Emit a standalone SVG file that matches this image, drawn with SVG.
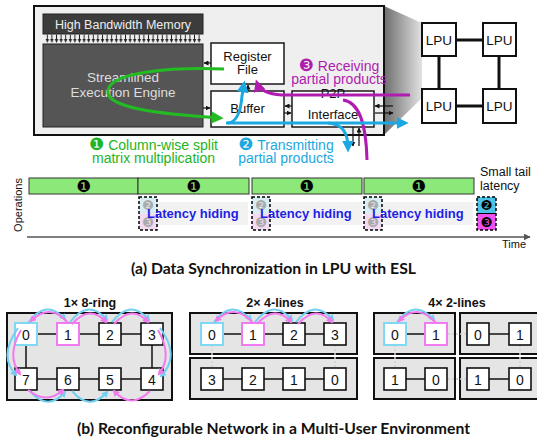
<svg xmlns="http://www.w3.org/2000/svg" width="537" height="443" viewBox="0 0 537 443">
<defs>
<style>
text{font-family:"Liberation Sans","DejaVu Sans",Arial,sans-serif}
.cap{font-family:Lato,"Open Sans","Liberation Sans",sans-serif;font-weight:bold;font-size:15px;fill:#111;text-anchor:middle}
.box{fill:#fff;stroke:#1a1a1a;stroke-width:1.5}
.lbl{font-size:13px;fill:#111;text-anchor:middle}
.lpu{fill:#fff;stroke:#111;stroke-width:2}
.lput{font-size:13.5px;fill:#111;text-anchor:middle}
.lpl{stroke:#111;stroke-width:3}
.sm{stroke:#111;stroke-width:1.2;marker-end:url(#mk)}
.bar{fill:#8de87a;stroke:#333;stroke-width:1}
.n1{font-size:16.5px;text-anchor:middle;fill:#000;font-family:"DejaVu Sans",sans-serif}
.n2{font-size:13.5px;text-anchor:middle;fill:#000;font-family:"DejaVu Sans",sans-serif}
.hid{fill:#f2f2f2}
.lh{font-size:13px;font-weight:bold;fill:#1f1fe6}
.dash{fill:none;stroke:#000;stroke-width:1.5;stroke-dasharray:3 2}
.fn{font-size:13.5px;text-anchor:middle;fill:#aaa;font-family:"DejaVu Sans",sans-serif}
.big{font-size:17px;font-family:"DejaVu Sans",sans-serif}
.net{fill:#e5e5e5;stroke:#111;stroke-width:2}
.nd{fill:#fff;stroke:#111;stroke-width:1.6}
.ndc{fill:#fff;stroke:#80d8f5;stroke-width:2}
.ndp{fill:#fff;stroke:#f07af0;stroke-width:2}
.nt{font-size:14px;text-anchor:middle;fill:#111}
.ln{stroke:#111;stroke-width:1.5}
.dot{stroke:#cfcfcf;stroke-width:1.5;stroke-dasharray:2 2}
.cy{fill:none;stroke:#72cff0;stroke-width:2;marker-end:url(#mc)}
.pk{fill:none;stroke:#f27aee;stroke-width:2;marker-end:url(#mp)}
.ttl{font-size:12.5px;font-weight:bold;text-anchor:middle;fill:#111}
.g3{fill:none;stroke:#22bb22;stroke-width:3}
.c3{fill:none;stroke:#1ca8e0;stroke-width:3}
.m3{fill:none;stroke:#b01cb0;stroke-width:3}
</style>
<linearGradient id="shade" gradientUnits="userSpaceOnUse" x1="384" y1="0" x2="424" y2="0">
<stop offset="0" stop-color="#6e6e6e"/>
<stop offset="1" stop-color="#e8e8e8"/>
</linearGradient>
<pattern id="hbmArr" patternUnits="userSpaceOnUse" x="45" y="34" width="4.6" height="10">
<line x1="2.3" y1="0.5" x2="2.3" y2="6" stroke="#222" stroke-width="1"/>
<polygon points="0.6,5 4,5 2.3,9" fill="#222"/>
</pattern>
<marker id="mk" viewBox="0 0 10 10" refX="9" refY="5" markerWidth="5" markerHeight="5" markerUnits="userSpaceOnUse" orient="auto"><path d="M0,0 L10,5 L0,10 z" fill="#111"/></marker>
<marker id="ma" viewBox="0 0 10 10" refX="9" refY="5" markerWidth="7" markerHeight="7" markerUnits="userSpaceOnUse" orient="auto"><path d="M0,0 L10,5 L0,10 z" fill="#555"/></marker>
<marker id="mg" viewBox="0 0 10 10" refX="7" refY="5" markerWidth="4" markerHeight="4" orient="auto"><path d="M0,0 L10,5 L0,10 z" fill="#22bb22"/></marker>
<marker id="mcy" viewBox="0 0 10 10" refX="7" refY="5" markerWidth="4" markerHeight="4" orient="auto"><path d="M0,0 L10,5 L0,10 z" fill="#1ca8e0"/></marker>
<marker id="mm" viewBox="0 0 10 10" refX="7" refY="5" markerWidth="4" markerHeight="4" orient="auto"><path d="M0,0 L10,5 L0,10 z" fill="#b01cb0"/></marker>
<marker id="mc" viewBox="0 0 10 10" refX="7" refY="5" markerWidth="7" markerHeight="7" markerUnits="userSpaceOnUse" orient="auto"><path d="M0,0 L10,5 L0,10 z" fill="#72cff0"/></marker>
<marker id="mp" viewBox="0 0 10 10" refX="7" refY="5" markerWidth="7" markerHeight="7" markerUnits="userSpaceOnUse" orient="auto"><path d="M0,0 L10,5 L0,10 z" fill="#f27aee"/></marker>
</defs>

<rect width="537" height="443" fill="#fff"/>

<!-- (a) chip -->
<g id="chip">
<polygon points="384,6 422,23 422,98 384,135" fill="url(#shade)"/>
<rect x="34" y="6" width="350" height="129" fill="#efefef" stroke="#111" stroke-width="2"/>
</g>
<g id="hbm">
<rect x="43" y="14" width="160" height="20" fill="#3c3c3c" stroke="#222"/>
<text x="123" y="29" font-size="12.5" fill="#eee" text-anchor="middle">High Bandwidth Memory</text>
<rect x="45" y="34" width="156" height="10" fill="url(#hbmArr)"/>
</g>
<g id="see">
<rect x="43" y="44" width="160" height="83" fill="#555" stroke="#222"/>
<text x="123" y="82" font-size="13.5" fill="#ddd" text-anchor="middle">Streamlined</text>
<text x="123" y="97" font-size="13.5" fill="#ddd" text-anchor="middle">Execution Engine</text>
</g>
<g id="regfile">
<rect class="box" x="211" y="43" width="73" height="41"/>
<text class="lbl" x="247.5" y="61">Register</text>
<text class="lbl" x="247.5" y="74">File</text>
</g>
<g id="buffer">
<rect class="box" x="211" y="91" width="73" height="36"/>
<text class="lbl" x="247.5" y="113">Buffer</text>
</g>
<g id="p2p">
<rect class="box" x="292" y="91" width="82" height="36"/>
<text class="lbl" x="333" y="98">P2P</text>
<text class="lbl" x="333" y="119">Interface</text>
</g>

<!-- LPU grid -->
<g id="lpu-links">
<line class="lpl" x1="456" y1="40" x2="483" y2="40"/>
<line class="lpl" x1="456" y1="106" x2="483" y2="106"/>
<line class="lpl" x1="439" y1="56" x2="439" y2="89"/>
<line class="lpl" x1="499" y1="56" x2="499" y2="89"/>
</g>
<g id="lpu1"><rect class="lpu" x="422" y="23" width="34" height="33"/><text class="lput" x="439" y="45">LPU</text></g>
<g id="lpu2"><rect class="lpu" x="483" y="23" width="33" height="33"/><text class="lput" x="499.5" y="45">LPU</text></g>
<g id="lpu3"><rect class="lpu" x="422" y="89" width="34" height="34"/><text class="lput" x="439" y="111">LPU</text></g>
<g id="lpu4"><rect class="lpu" x="483" y="89" width="33" height="34"/><text class="lput" x="499.5" y="111">LPU</text></g>

<!-- chip connectors -->
<g id="chip-connectors">
<line class="sm" x1="211" y1="63" x2="204" y2="63"/>
<line class="sm" x1="203" y1="108" x2="210" y2="108"/>
<line class="sm" x1="248" y1="91" x2="248" y2="85"/>
<line class="sm" x1="292" y1="106" x2="285" y2="106"/>
<line class="sm" x1="284" y1="113" x2="291" y2="113"/>
<line class="sm" x1="393" y1="106" x2="375" y2="106"/>
<line class="sm" x1="375" y1="113" x2="393" y2="113"/>
<line class="sm" x1="353" y1="127" x2="353" y2="146"/>
<line class="sm" x1="359" y1="146" x2="359" y2="128"/>
<path class="g3" d="M224,69 C170,67 112,72 108,90 C104,108 160,114 220,118" marker-end="url(#mg)"/>
<path class="m3" d="M410,95 L282,95 C266,94 259,89 257,83" marker-end="url(#mm)"/>
<path class="m3" d="M343,100 C358,102 366,120 367,160"/>
<path class="c3" d="M226,123 L405,123" marker-end="url(#mcy)"/>
<path class="c3" d="M228,123 C238,122 241,108 242,96 L244,84" marker-end="url(#mcy)"/>
<path class="c3" d="M328,123 C343,124 348,133 348,149" marker-end="url(#mcy)"/>
</g>

<g id="labels-a">
<text x="153.5" y="150" font-size="14" fill="#22b422" text-anchor="middle"><tspan class="big">❶</tspan> Column-wise split</text>
<text x="153.5" y="163" font-size="14" fill="#22b422" text-anchor="middle">matrix multiplication</text>
<text x="286" y="150" font-size="14" fill="#1ca8e0" text-anchor="middle"><tspan class="big">❷</tspan> Transmitting</text>
<text x="286" y="163" font-size="14" fill="#1ca8e0" text-anchor="middle">partial products</text>
<text x="339" y="71" font-size="14" fill="#b01cb0" text-anchor="middle"><tspan class="big">❸</tspan> Receiving</text>
<text x="339" y="84" font-size="14" fill="#b01cb0" text-anchor="middle">partial products</text>
</g>

<!-- timeline -->
<g id="timeline">
<text transform="translate(22,205) rotate(-90)" font-size="11" fill="#111" text-anchor="middle">Operations</text>
<rect class="bar" x="29" y="178" width="109" height="16"/><text class="n1" x="84" y="192">❶</text>
<rect class="bar" x="138" y="178" width="111" height="16"/><text class="n1" x="194" y="192">❶</text>
<rect class="bar" x="252" y="178" width="110" height="16"/><text class="n1" x="307" y="192">❶</text>
<rect class="bar" x="364" y="178" width="110" height="16"/><text class="n1" x="419" y="192">❶</text>

<g id="hide1">
<rect class="hid" x="140" y="202" width="108" height="23"/>
<rect x="139" y="197" width="18" height="16.5" fill="#d8edf4"/>
<rect x="139" y="213.5" width="18" height="16.5" fill="#f3daf3"/>
<text class="fn" x="148" y="210">❷</text><text class="fn" x="148" y="226.5">❸</text>
<rect class="dash" x="139" y="197" width="18" height="33"/>
<text class="lh" x="147" y="218">Latency hiding</text>
</g>
<g id="hide2">
<rect class="hid" x="253" y="202" width="109" height="23"/>
<rect x="252" y="197" width="18" height="16.5" fill="#d8edf4"/>
<rect x="252" y="213.5" width="18" height="16.5" fill="#f3daf3"/>
<text class="fn" x="261" y="210">❷</text><text class="fn" x="261" y="226.5">❸</text>
<rect class="dash" x="252" y="197" width="18" height="33"/>
<text class="lh" x="260" y="218">Latency hiding</text>
</g>
<g id="hide3">
<rect class="hid" x="365" y="202" width="108" height="23"/>
<rect x="364" y="197" width="18" height="16.5" fill="#d8edf4"/>
<rect x="364" y="213.5" width="18" height="16.5" fill="#f3daf3"/>
<text class="fn" x="373" y="210">❷</text><text class="fn" x="373" y="226.5">❸</text>
<rect class="dash" x="364" y="197" width="18" height="33"/>
<text class="lh" x="372" y="218">Latency hiding</text>
</g>
<g id="tail">
<rect x="477" y="197" width="19" height="16.5" fill="#4cc4e8"/>
<rect x="477" y="213.5" width="19" height="16.5" fill="#f050f0"/>
<text class="n2" x="486.5" y="210">❷</text><text class="n2" x="486.5" y="226.5">❸</text>
<rect class="dash" x="477" y="197" width="19" height="33"/>
<line x1="477" y1="213.5" x2="496" y2="213.5" stroke="#000" stroke-width="1"/>
<text x="480" y="176" font-size="12.5" fill="#111">Small tail</text>
<text x="480" y="190" font-size="12.5" fill="#111">latency</text>
</g>
<line x1="27" y1="237" x2="530" y2="237" stroke="#555" stroke-width="1.5" marker-end="url(#ma)"/>
<text x="502" y="248" font-size="11" fill="#111">Time</text>
</g>

<text class="cap" x="273.5" y="274" textLength="285" lengthAdjust="spacingAndGlyphs">(a) Data Synchronization in LPU with ESL</text>

<!-- (b) 1x 8-ring -->
<g id="ring8">
<text class="ttl" x="90" y="307">1× 8-ring</text>
<rect class="net" x="7" y="313" width="165" height="87"/>
<line class="ln" x1="37" y1="334" x2="141" y2="334"/>
<line class="ln" x1="37" y1="379" x2="141" y2="379"/>
<line class="ln" x1="26" y1="345" x2="26" y2="368"/>
<line class="ln" x1="152" y1="345" x2="152" y2="368"/>
<g id="r8n0"><rect class="ndc" x="15" y="323" width="22" height="22"/><text class="nt" x="26" y="339.5">0</text></g>
<g id="r8n1"><rect class="ndp" x="57" y="323" width="22" height="22"/><text class="nt" x="68" y="339.5">1</text></g>
<g id="r8n2"><rect class="nd" x="99" y="323" width="22" height="22"/><text class="nt" x="110" y="339.5">2</text></g>
<g id="r8n3"><rect class="nd" x="141" y="323" width="22" height="22"/><text class="nt" x="152" y="339.5">3</text></g>
<g id="r8n7"><rect class="nd" x="15" y="368" width="22" height="22"/><text class="nt" x="26" y="384.5">7</text></g>
<g id="r8n6"><rect class="nd" x="57" y="368" width="22" height="22"/><text class="nt" x="68" y="384.5">6</text></g>
<g id="r8n5"><rect class="nd" x="99" y="368" width="22" height="22"/><text class="nt" x="110" y="384.5">5</text></g>
<g id="r8n4"><rect class="nd" x="141" y="368" width="22" height="22"/><text class="nt" x="152" y="384.5">4</text></g>
</g>
<g id="ring8-arrows">
<path class="cy" d="M28,323 Q46,298 65,319"/>
<path class="pk" d="M68,323 Q50,302 31,321"/>
<path class="cy" d="M70,322 Q89,298 107,320"/>
<path class="pk" d="M72,324 Q90,304 106,322"/>
<path class="cy" d="M112,322 Q131,298 149,320"/>
<path class="pk" d="M114,324 Q132,304 148,322"/>
<path class="cy" d="M160,328 Q181,356 161,376"/>
<path class="pk" d="M158,330 Q173,356 159,374"/>
<path class="cy" d="M18,328 Q-2,356 16,375"/>
<path class="pk" d="M21,330 Q6,356 20,374"/>
<path class="cy" d="M30,391 Q48,412 65,392"/>
<path class="pk" d="M28,390 Q47,405 63,390"/>
<path class="cy" d="M72,391 Q90,412 107,392"/>
<path class="pk" d="M150,391 Q131,410 114,391"/>
</g>

<!-- (b) 2x 4-lines -->
<g id="lines4">
<text class="ttl" x="275" y="307">2× 4-lines</text>
<rect class="net" x="190" y="313" width="167" height="41"/>
<rect class="net" x="190" y="358" width="167" height="41"/>
<line class="dot" x1="212" y1="345" x2="212" y2="368"/>
<line class="dot" x1="335" y1="345" x2="335" y2="368"/>
<line class="ln" x1="223" y1="334" x2="324" y2="334"/>
<line class="ln" x1="223" y1="379" x2="324" y2="379"/>
<g id="l4a0"><rect class="ndc" x="201" y="323" width="22" height="22"/><text class="nt" x="212" y="339.5">0</text></g>
<g id="l4a1"><rect class="ndp" x="242" y="323" width="22" height="22"/><text class="nt" x="253" y="339.5">1</text></g>
<g id="l4a2"><rect class="nd" x="283" y="323" width="22" height="22"/><text class="nt" x="294" y="339.5">2</text></g>
<g id="l4a3"><rect class="nd" x="324" y="323" width="22" height="22"/><text class="nt" x="335" y="339.5">3</text></g>
<g id="l4b3"><rect class="nd" x="201" y="368" width="22" height="22"/><text class="nt" x="212" y="384.5">3</text></g>
<g id="l4b2"><rect class="nd" x="242" y="368" width="22" height="22"/><text class="nt" x="253" y="384.5">2</text></g>
<g id="l4b1"><rect class="nd" x="283" y="368" width="22" height="22"/><text class="nt" x="294" y="384.5">1</text></g>
<g id="l4b0"><rect class="nd" x="324" y="368" width="22" height="22"/><text class="nt" x="335" y="384.5">0</text></g>
</g>
<g id="lines4-arrows">
<path class="cy" d="M214,322 Q232,298 251,320"/>
<path class="pk" d="M253,323 Q234,302 216,321"/>
<path class="cy" d="M255,322 Q274,298 292,320"/>
<path class="pk" d="M257,324 Q275,304 291,322"/>
<path class="cy" d="M296,322 Q315,298 333,320"/>
<path class="pk" d="M298,324 Q316,304 332,322"/>
</g>

<!-- (b) 4x 2-lines -->
<g id="lines2">
<text class="ttl" x="457" y="307">4× 2-lines</text>
<rect class="net" x="374" y="313" width="81" height="41"/>
<rect class="net" x="460" y="313" width="78" height="41"/>
<rect class="net" x="374" y="358" width="81" height="41"/>
<rect class="net" x="460" y="358" width="78" height="41"/>
<line class="dot" x1="448" y1="334" x2="467" y2="334"/>
<line class="dot" x1="448" y1="379" x2="467" y2="379"/>
<line class="dot" x1="395" y1="345" x2="395" y2="368"/>
<line class="dot" x1="520" y1="345" x2="520" y2="368"/>
<line class="ln" x1="406" y1="334" x2="425" y2="334"/>
<line class="ln" x1="489" y1="334" x2="509" y2="334"/>
<line class="ln" x1="406" y1="379" x2="425" y2="379"/>
<line class="ln" x1="489" y1="379" x2="509" y2="379"/>
<g id="l2a0"><rect class="ndc" x="384" y="323" width="22" height="22"/><text class="nt" x="395" y="339.5">0</text></g>
<g id="l2a1"><rect class="ndp" x="425" y="323" width="22" height="22"/><text class="nt" x="436" y="339.5">1</text></g>
<g id="l2b0"><rect class="nd" x="467" y="323" width="22" height="22"/><text class="nt" x="478" y="339.5">0</text></g>
<g id="l2b1"><rect class="nd" x="509" y="323" width="22" height="22"/><text class="nt" x="520" y="339.5">1</text></g>
<g id="l2c1"><rect class="nd" x="384" y="368" width="22" height="22"/><text class="nt" x="395" y="384.5">1</text></g>
<g id="l2c0"><rect class="nd" x="425" y="368" width="22" height="22"/><text class="nt" x="436" y="384.5">0</text></g>
<g id="l2d1"><rect class="nd" x="467" y="368" width="22" height="22"/><text class="nt" x="478" y="384.5">1</text></g>
<g id="l2d0"><rect class="nd" x="509" y="368" width="22" height="22"/><text class="nt" x="520" y="384.5">0</text></g>
</g>
<g id="lines2-arrows">
<path class="cy" d="M397,322 Q415,298 434,320"/>
<path class="pk" d="M436,323 Q417,302 399,321"/>
</g>

<text class="cap" x="273.5" y="434" textLength="393" lengthAdjust="spacingAndGlyphs">(b) Reconfigurable Network in a Multi-User Environment</text>
</svg>
